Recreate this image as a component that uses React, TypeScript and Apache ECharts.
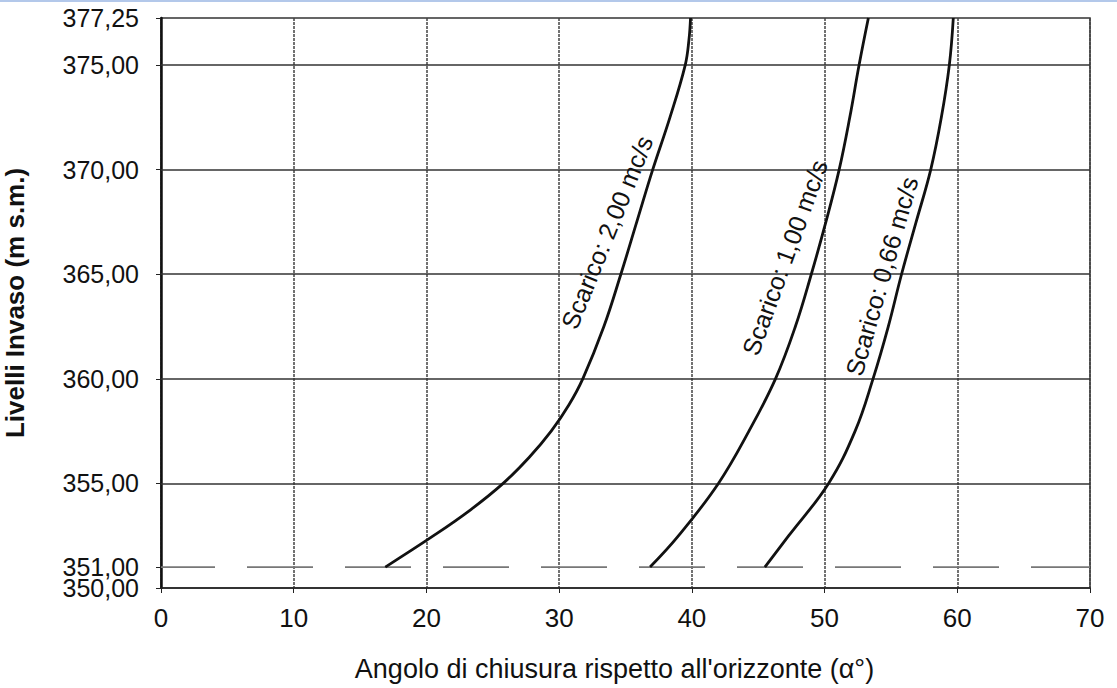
import React, { useEffect, useRef } from "react";
import * as echarts from "echarts";

// X: closing angle (deg), Y: reservoir level (m s.m.)
const curve200: [number, number][] = [
  [16.9, 351], [20.54, 352.5], [23.35, 353.75], [25.78, 355], [27.75, 356.25], [29.4, 357.5],
  [30.73, 358.75], [31.78, 360], [33.37, 362.5], [34.65, 365], [35.85, 367.5], [37.05, 370],
  [38.35, 372.5], [39.5, 375], [39.78, 376.2], [39.9, 377.25],
];
const curve100: [number, number][] = [
  [36.85, 351], [39.0, 352.5], [42.0, 355], [44.3, 357.5], [46.3, 360], [47.8, 362.5],
  [49.0, 365], [50.1, 367.5], [51.1, 370], [51.9, 372.5], [52.6, 375], [53.3, 377.25],
];
const curve066: [number, number][] = [
  [45.5, 351], [47.3, 352.5], [50.3, 355], [52.3, 357.5], [53.65, 360], [54.8, 362.5],
  [55.8, 365], [56.9, 367.5], [58.0, 370], [58.8, 372.5], [59.4, 375], [59.7, 377.25],
];
const seriesNames = ["Scarico: 2,00 mc/s", "Scarico: 1,00 mc/s", "Scarico: 0,66 mc/s"];
const labelAnchors: [number, number][] = [[33.6, 367.0], [47.0, 365.8], [54.3, 364.9]];
const labelAngles = [68, 70, 74];
const yTickValues = [350, 351, 355, 360, 365, 370, 375, 377.25];
const yLabelValues = [350, 355, 360, 365, 370, 375, 377.25];
const yExtraLabelValues = [351];
const yGridValues = [355, 360, 365, 370, 375];
const minimumLevel = 351;
const yRange: [number, number] = [350, 377.25];
const xRange: [number, number] = [0, 70];

const FONT = "'Liberation Sans', Arial, sans-serif";
const fmt = (v: number) => v.toFixed(2).replace(".", ",");

export default function App() {
  const ref = useRef<HTMLDivElement>(null);
  useEffect(() => {
    document.body.style.margin = "0";
    const chart = echarts.init(ref.current!, null, { renderer: "svg" });
    const curves = [curve200, curve100, curve066];
    const curveSeries = curves.map((data, i) => ({
      type: "line",
      name: seriesNames[i],
      data,
      smooth: 0.4,
      showSymbol: false,
      symbol: "none",
      lineStyle: { color: "#111", width: 2.8 },
      z: 5,
      markPoint: {
        symbol: "circle",
        symbolSize: 0,
        silent: true,
        data: [{ coord: labelAnchors[i], value: 0 }],
        label: {
          show: true,
          position: "inside",
          formatter: seriesNames[i],
          rotate: labelAngles[i],
          color: "#111",
          fontSize: 25,
          fontFamily: FONT,
        },
      },
    }));
    const labelStyle = {
      fontSize: 25, lineHeight: 18, color: "#111", fontFamily: FONT, margin: 22, formatter: fmt,
    };
    chart.setOption({
      animation: false,
      backgroundColor: "#fff",
      graphic: [
        { type: "rect", left: 0, top: 0, shape: { width: 1117, height: 2 }, style: { fill: "#b3c8ea" } },
      ],
      grid: {
        left: 161, right: 27, top: 18, bottom: 100,
        outerBoundsMode: "none",
        containLabel: false,
        show: true, borderColor: "#333", borderWidth: 1.5,
      },
      xAxis: {
        type: "value",
        min: xRange[0], max: xRange[1], interval: 10,
        name: "Angolo di chiusura rispetto all'orizzonte (α°)",
        nameLocation: "middle",
        nameGap: 67,
        nameTextStyle: { fontSize: 27, color: "#111", fontFamily: FONT, padding: [0, 22, 0, 0] },
        axisLine: { show: true, lineStyle: { color: "#222", width: 1.5 } },
        axisTick: { show: true, length: 5, lineStyle: { color: "#222" } },
        axisLabel: { fontSize: 26, color: "#111", fontFamily: FONT, margin: 17 },
        splitLine: { show: true, lineStyle: { color: "#444", width: 1.5, type: [3, 1] } },
      },
      yAxis: [
        {
          type: "value",
          min: yRange[0], max: yRange[1],
          name: "Livelli Invaso (m s.m.)",
          nameLocation: "middle",
          nameGap: 133,
          nameTextStyle: { fontSize: 26, fontWeight: "bold", color: "#111", fontFamily: FONT },
          axisLine: { show: true, lineStyle: { color: "#111", width: 2.5 } },
          axisTick: { show: true, length: 5, customValues: yTickValues, lineStyle: { color: "#222" } },
          axisLabel: {
            ...labelStyle, customValues: yLabelValues, showMinLabel: true, showMaxLabel: true,
            padding: [2, 0, 0, 0],
          },
          splitLine: { show: false },
        },
        {
          type: "value",
          position: "left",
          offset: 0,
          min: yRange[0], max: yRange[1],
          axisLine: { show: false },
          axisTick: { show: false },
          axisLabel: {
            ...labelStyle, customValues: yExtraLabelValues, showMinLabel: true, showMaxLabel: true,
            padding: [0, 0, 3, 0],
          },
          splitLine: { show: false },
        },
      ],
      series: [
        {
          type: "line",
          data: [],
          silent: true,
          markLine: {
            silent: true,
            symbol: "none",
            label: { show: false },
            lineStyle: { color: "#333", width: 1.5, type: "solid" },
            data: yGridValues.map((v) => ({ yAxis: v })),
          },
        },
        {
          type: "line",
          data: [[xRange[0], minimumLevel], [xRange[1], minimumLevel]],
          symbol: "none",
          silent: true,
          lineStyle: { color: "#777", width: 1.6, type: [66, 32], dashOffset: 12 },
          z: 3,
        },
        ...curveSeries,
      ],
    });
    return () => chart.dispose();
  }, []);
  return <div ref={ref} style={{ width: 1117, height: 688 }} />;
}
